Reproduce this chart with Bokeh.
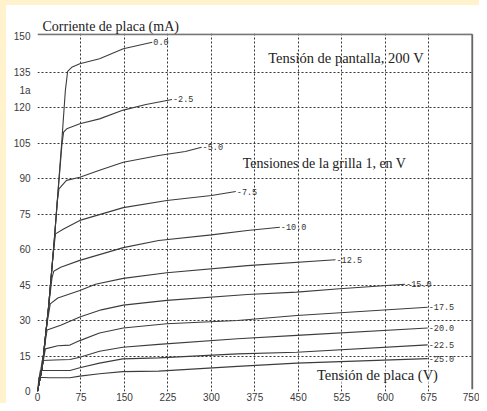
from bokeh.plotting import figure
from bokeh.models import FixedTicker, Label, ColumnDataSource, Range1d, Div
from bokeh.layouts import column, row
from bokeh.core.properties import value
from bokeh.embed import file_html
from bokeh.resources import INLINE

# ---- data (plate voltage V, plate current mA) ----
grid_labels = ["0.0", "-2.5", "-5.0", "-7.5", "-10.0", "-12.5", "-15.0", "-17.5", "-20.0", "-22.5", "-25.0"]

v_00 = [0, 8, 19, 29, 42, 48, 52, 59, 73, 107, 148, 198]
i_00 = [0, 10, 35.5, 64, 106, 127, 135.3, 137, 138.5, 140.6, 144.8, 147.6]

v_25 = [0, 8, 19, 29, 36, 42, 45, 50.5, 73, 107, 148, 187, 232]
i_25 = [0, 10, 35.5, 64, 86, 104, 109.6, 111, 113.1, 115.2, 118.9, 121.3, 123.4]

v_50 = [0, 8, 19, 29, 34, 37, 50, 73, 107, 148, 209, 255, 283]
i_50 = [0, 10, 35.5, 64, 80, 85.6, 89.2, 90.5, 93.5, 96.9, 99.7, 101.4, 103.2]

v_75 = [0, 8, 19, 27, 31, 45, 73, 148, 223, 300, 342]
i_75 = [0, 10, 35.5, 58, 66.6, 68.7, 72.3, 77.7, 80.7, 82.8, 84.5]

v_100 = [0, 8, 19, 25, 28, 40, 73, 148, 209, 300, 362, 418]
i_100 = [0, 10, 35.5, 48, 50.8, 52.5, 55.4, 60.8, 63.8, 66.2, 68, 69.4]

v_125 = [0, 8, 16, 22, 35, 73, 100, 148, 223, 362, 514]
i_125 = [0, 10, 28, 37, 39.5, 42.7, 45.3, 47.8, 50.2, 53.2, 55.7]

v_150 = [0, 8, 13.6, 16.5, 40, 73, 110, 148, 223, 362, 447, 521, 634]
i_150 = [0, 10, 21.5, 26, 28, 31.5, 34.5, 36.5, 38.5, 41, 42, 43.4, 45.3]

v_175 = [0, 8, 13.6, 35, 56, 73, 107, 148, 223, 345, 447, 673]
i_175 = [0, 10.3, 18, 19.3, 19.6, 21.5, 24.7, 26.8, 28.6, 30, 32.1, 35.6]

v_200 = [0, 4, 8, 30, 56, 73, 107, 147, 209, 345, 447, 673]
i_200 = [0, 6, 13.1, 13.3, 13.5, 14.5, 17, 18.7, 19.9, 22.3, 23.7, 26.8]

v_225 = [0, 2.5, 5, 56, 73, 107, 147, 209, 345, 447, 673]
i_225 = [0, 5, 8.9, 8.9, 10, 12, 13.8, 14.2, 15.9, 16.6, 19.7]

v_250 = [0, 2.5, 20, 56, 73, 107, 147, 209, 345, 447, 673]
i_250 = [0, 6, 5.8, 5.8, 6.5, 7.5, 8.4, 8.6, 10.6, 12, 13.9]

curves_v = [v_00, v_25, v_50, v_75, v_100, v_125, v_150, v_175, v_200, v_225, v_250]
curves_i = [i_00, i_25, i_50, i_75, i_100, i_125, i_150, i_175, i_200, i_225, i_250]

x_ticks = [0, 75, 150, 225, 300, 375, 450, 525, 600, 675, 750]
y_ticks = [0, 15, 30, 45, 60, 75, 90, 105, 120, 135, 150]
odd_tick = 127
odd_tick_label = "1a"
frame_top = 151

title_text = "Corriente de placa (mA)"
note_screen = "Tensión de pantalla, 200 V"
note_grid = "Tensiones de la grilla 1, en V"
note_plate = "Tensión de placa (V)"

serif = "Liberation Serif"
sans = "Liberation Sans"
cream = "#FFF2CC"

# ---- figure ----
p = figure(width=473, height=398, x_range=Range1d(0, 752), y_range=Range1d(0, 151.27),
           output_backend="svg", toolbar_location=None,
           min_border_left=31, min_border_right=6, min_border_top=28, min_border_bottom=12)
p.outline_line_color = None
p.background_fill_color = "white"
p.border_fill_color = "white"

p.title.text = title_text
p.title.text_font = serif
p.title.text_font_size = "14px"
p.title.text_font_style = "normal"
p.title.text_color = "#222222"
p.title.align = "left"
p.title.offset = 5
p.title.standoff = 0

for ax in (p.xaxis[0], p.yaxis[0]):
    ax.axis_line_color = None
    ax.major_tick_line_color = None
    ax.minor_tick_line_color = None
    ax.major_tick_out = 0
    ax.major_tick_in = 0
    ax.major_label_text_font = sans
    ax.major_label_text_font_size = "10px"
    ax.major_label_text_color = "#3a3a3a"

p.xaxis.ticker = FixedTicker(ticks=x_ticks)
p.xaxis.major_label_standoff = 1
p.yaxis.ticker = FixedTicker(ticks=y_ticks + [odd_tick])
p.yaxis.major_label_overrides = {odd_tick: odd_tick_label}
p.yaxis.major_label_standoff = 7

p.xgrid.ticker = FixedTicker(ticks=x_ticks[1:-1])
p.ygrid.ticker = FixedTicker(ticks=y_ticks[1:-1])
for g in (p.xgrid[0], p.ygrid[0]):
    g.grid_line_color = "#333333"
    g.grid_line_dash = "2 2"
    g.grid_line_width = 1

# frame border lines (top and right) along the axis limits
p.line([x_ticks[0], x_ticks[-1]], [frame_top, frame_top], line_color="#777777", line_width=2)
p.line([x_ticks[-1], x_ticks[-1]], [y_ticks[0] + 1, frame_top], line_color="#666666", line_width=2)

for vs, is_ in zip(curves_v, curves_i):
    p.line(vs, is_, line_color="#3c3c3c", line_width=1.1)

end_v = [vs[-1] for vs in curves_v]
end_i = [is_[-1] for is_ in curves_i]
lab_src = ColumnDataSource(dict(x=end_v, y=end_i, t=grid_labels))
p.text(x="x", y="y", text="t", source=lab_src, x_offset=1, text_baseline="middle",
       text_font=value("Liberation Mono"), text_font_size="8.5px", text_color="#333333")

p.add_layout(Label(x=398, y=141, text=note_screen, text_font=serif, text_font_size="14.5px",
                   text_color="#222222", text_baseline="alphabetic"))
p.add_layout(Label(x=354, y=96.3, text=note_grid, text_font=serif, text_font_size="14px",
                   text_color="#222222", text_baseline="alphabetic"))
p.add_layout(Label(x=482, y=6.8, text=note_plate, text_font=serif, text_font_size="14.5px",
                   text_color="#222222", text_baseline="alphabetic",
                   background_fill_color="white", background_fill_alpha=0.6))

top_strip = Div(text="", width=479, height=5, margin=0, styles={"background-color": cream})
left_strip = Div(text="", width=6, height=398, margin=0, styles={"background-color": cream})
layout = column(top_strip, row(left_strip, p, spacing=0), spacing=0)

open("out.html", "w").write(file_html(layout, INLINE))
